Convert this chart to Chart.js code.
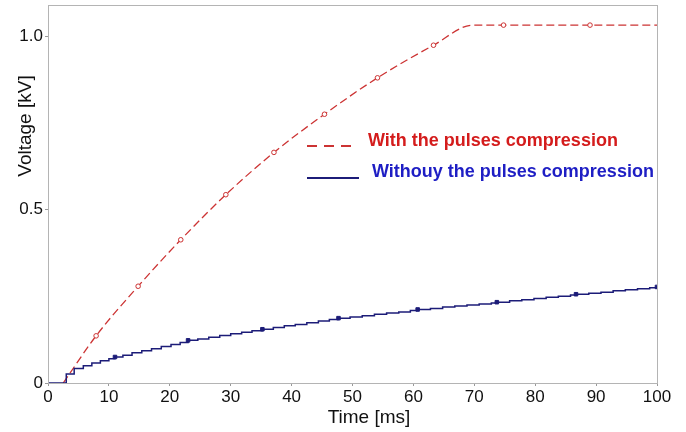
<!DOCTYPE html>
<html>
<head>
<meta charset="utf-8">
<script src="https://cdn.jsdelivr.net/npm/chart.js@4"></script>
<style>
  body { margin: 0; background: #fff; }
  #wrap { width: 686px; height: 432px; }
</style>
</head>
<body>
<div id="wrap"><canvas id="chart-voltage"></canvas></div>
<script>
// With compression: time [ms] / voltage [kV]
const compTime = [2.5, 7.9, 14.8, 21.8, 29.2, 37.1, 45.4, 54.1, 63.3, 69.8, 74.8, 89, 100];
const compVolt = [0, 0.136, 0.279, 0.413, 0.543, 0.665, 0.775, 0.88, 0.974, 1.032, 1.032, 1.032, 1.032];
const compMarks = [7.9, 14.8, 21.8, 29.2, 37.1, 45.4, 54.1, 63.3, 74.8, 89];

// Without compression (staircase record)
const plainTime = [0, 2.4, 3.0, 4.3, 5.8, 7.2, 8.6, 10.0, 11.0, 12.3, 13.8, 15.4, 17.0, 18.6, 20.2, 21.7, 23.0,
  24.6, 26.4, 28.2, 30.0, 31.8, 33.5, 35.2, 37.0, 38.8, 40.6, 42.5, 44.4, 46.2, 47.7, 49.6, 51.6, 53.6, 55.6,
  57.6, 59.5, 60.7, 62.8, 64.8, 66.8, 68.8, 70.8, 72.8, 73.7, 75.8, 77.8, 79.8, 81.8, 83.8, 85.8, 86.7, 88.8,
  90.8, 92.8, 94.8, 96.8, 98.8, 100];
const plainVolt = [0, 0, 0.026, 0.042, 0.05, 0.058, 0.064, 0.07, 0.075, 0.08, 0.087, 0.093, 0.099, 0.105, 0.111, 0.117, 0.123,
  0.127, 0.132, 0.137, 0.142, 0.146, 0.151, 0.155, 0.16, 0.165, 0.169, 0.174, 0.179, 0.183, 0.187, 0.19, 0.194, 0.198, 0.202,
  0.205, 0.209, 0.212, 0.215, 0.219, 0.222, 0.225, 0.228, 0.231, 0.233, 0.237, 0.24, 0.244, 0.247, 0.25, 0.254, 0.256, 0.259,
  0.262, 0.266, 0.269, 0.272, 0.275, 0.277];
const plainMarks = [11.0, 23.0, 35.2, 47.7, 60.7, 73.7, 86.7, 100];

const yTicks = [0, 0.5, 1.0];
const seriesNames = ['With the pulses compression', 'Withouy the pulses compression'];

const RED = '#cc3333';
const NAVY = '#1c1c78';
const FONT = '"Liberation Sans", Arial, sans-serif';

const toPoints = (xs, ys) => xs.map((x, i) => ({ x: x, y: ys[i] }));

// frame, axis titles and the in-plot legend
const decorPlugin = {
  id: 'decor',
  afterDraw(chart) {
    const ctx = chart.ctx;
    const a = chart.chartArea;
    ctx.save();
    ctx.strokeStyle = '#b4b4b4';
    ctx.lineWidth = 1;
    ctx.strokeRect(a.left + 0.5, a.top + 0.5, a.right - a.left, a.bottom - a.top);

    ctx.fillStyle = '#111';
    ctx.font = '19px ' + FONT;
    ctx.textAlign = 'center';
    ctx.textBaseline = 'middle';
    ctx.fillText('Time [ms]', 369, 418);
    ctx.save();
    ctx.translate(26, 126);
    ctx.rotate(-Math.PI / 2);
    ctx.fillText('Voltage [kV]', 0, 0);
    ctx.restore();

    // legend
    ctx.lineWidth = 2;
    ctx.strokeStyle = RED;
    ctx.setLineDash([10, 7]);
    ctx.beginPath();
    ctx.moveTo(307, 146);
    ctx.lineTo(356, 146);
    ctx.stroke();
    ctx.setLineDash([]);
    ctx.strokeStyle = NAVY;
    ctx.beginPath();
    ctx.moveTo(307, 178);
    ctx.lineTo(359, 178);
    ctx.stroke();

    ctx.font = 'bold 18px ' + FONT;
    ctx.textAlign = 'left';
    ctx.fillStyle = '#d41c1c';
    ctx.fillText(seriesNames[0], 368, 141);
    ctx.fillStyle = '#1e1ec4';
    ctx.fillText(seriesNames[1], 372, 172);
    ctx.restore();
  }
};

const ctxVolt = document.getElementById('chart-voltage').getContext('2d');
const voltChart = new Chart(ctxVolt, {
  type: 'line',
  data: {
    datasets: [{
      label: seriesNames[1],
      data: toPoints(plainTime, plainVolt),
      borderColor: NAVY,
      borderWidth: 1.5,
      stepped: true,
      pointStyle: 'rect',
      pointRadius: c => plainMarks.includes(c.raw.x) ? 2.5 : 0,
      pointBackgroundColor: NAVY,
      pointBorderColor: NAVY,
      pointBorderWidth: 1
    }, {
      label: seriesNames[0],
      data: toPoints(compTime, compVolt),
      borderColor: RED,
      borderWidth: 1.3,
      borderDash: [8, 4],
      cubicInterpolationMode: 'monotone',
      pointStyle: 'circle',
      pointRadius: c => compMarks.includes(c.raw.x) ? 2.3 : 0,
      pointBackgroundColor: '#fff',
      pointBorderColor: RED,
      pointBorderWidth: 1
    }]
  },
  options: {
    responsive: true,
    maintainAspectRatio: false,
    animation: false,
    layout: { padding: { top: 4, right: 29, left: 0, bottom: 0 } },
    plugins: {
      legend: { display: false },
      tooltip: { enabled: false }
    },
    scales: {
      x: {
        type: 'linear',
        min: 0,
        max: 100,
        afterFit: s => { s.height = 49; s.paddingLeft = 0; s.paddingRight = 0; },
        ticks: { stepSize: 10, color: '#111', font: { family: FONT, size: 17 }, padding: 1, maxRotation: 0 },
        grid: { drawOnChartArea: false, tickLength: 3, color: '#999' },
        border: { color: '#b4b4b4' }
      },
      y: {
        min: 0,
        max: 1.09,
        afterFit: s => { s.width = 48; s.paddingTop = 0; s.paddingBottom = 0; },
        afterBuildTicks: s => { s.ticks = yTicks.map(v => ({ value: v })); },
        ticks: {
          color: '#111',
          font: { family: FONT, size: 17 },
          padding: 2,
          callback: v => v === 0 ? '0' : v.toFixed(1)
        },
        grid: { drawOnChartArea: false, tickLength: 3, color: '#999' },
        border: { color: '#b4b4b4' }
      }
    }
  },
  plugins: [decorPlugin]
});
</script>
</body>
</html>
